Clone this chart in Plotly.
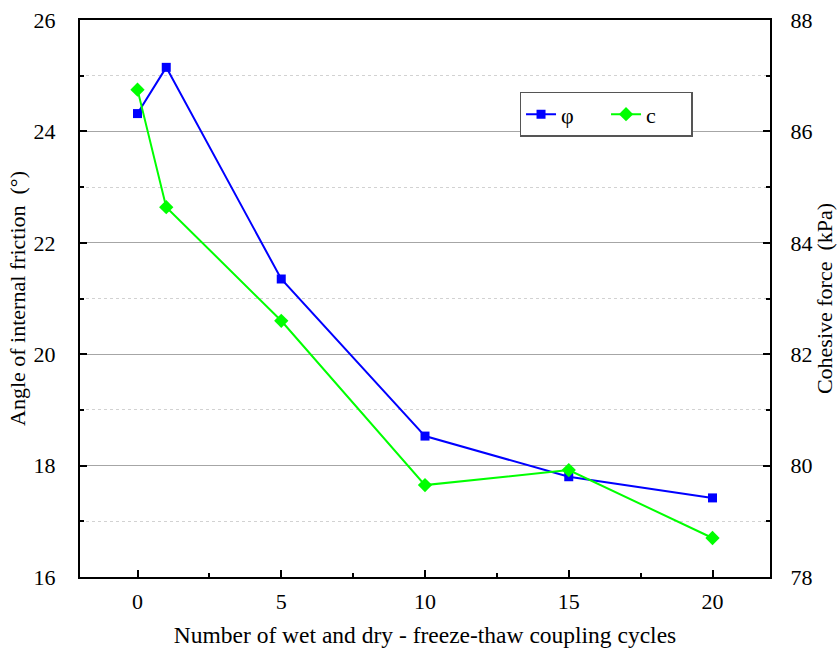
import plotly.graph_objects as go

# Wet-dry / freeze-thaw coupling cycles and the measured shear strength parameters
cycles = [0, 1, 5, 10, 15, 20]
phi_deg = [24.32, 25.15, 21.35, 18.53, 17.80, 17.42]   # angle of internal friction (°)
cohesion_kpa = [86.75, 84.64, 82.60, 79.65, 79.92, 78.70]  # cohesive force (kPa)

FONT = "Times New Roman, Liberation Serif, serif"

fig = go.Figure()
fig.add_trace(go.Scatter(
    x=cycles, y=phi_deg, name="φ", mode="lines+markers",
    line=dict(color="#0000FF", width=2),
    marker=dict(symbol="square", size=9, color="#0000FF"),
))
fig.add_trace(go.Scatter(
    x=cycles, y=cohesion_kpa, name="c", mode="lines+markers", yaxis="y2",
    line=dict(color="#00FF00", width=2),
    marker=dict(symbol="diamond", size=11, color="#00FF00"),
))

axis_common = dict(
    showline=True, linecolor="black", linewidth=2,
    ticks="inside", ticklen=7, tickwidth=2, tickcolor="black",
    tickfont=dict(family=FONT, size=22, color="black"),
    zeroline=False, automargin=False,
)

fig.update_layout(
    width=838, height=648,
    margin=dict(l=80, r=68, t=20, b=71),
    paper_bgcolor="white", plot_bgcolor="white",
    font=dict(family=FONT, size=22, color="black"),
    xaxis=dict(
        **axis_common,
        range=[-2, 22], dtick=5, tick0=0, mirror=True, showgrid=False,
        ticklabelstandoff=4,
        minor=dict(dtick=2.5, ticks="inside", ticklen=4, tickwidth=2, tickcolor="black", showgrid=False),
        title=dict(text="Number of wet and dry - freeze-thaw coupling cycles",
                   font=dict(family=FONT, size=23.5), standoff=14),
    ),
    yaxis=dict(
        **axis_common,
        range=[16, 26], dtick=2, tick0=16, ticklabelstandoff=18,
        showgrid=True, gridcolor="#a6a6a6", gridwidth=1,
        minor=dict(dtick=1, ticks="inside", ticklen=4, tickwidth=2, tickcolor="black",
                   showgrid=True, gridcolor="#d2d2d2", griddash="3px,3px", gridwidth=1),
        title=dict(text="Angle of internal friction  (°)",
                   font=dict(family=FONT, size=22), standoff=2),
    ),
    yaxis2=dict(
        **axis_common,
        overlaying="y", side="right", anchor="x",
        range=[78, 88], dtick=2, tick0=78, showgrid=False, ticklabelstandoff=14,
        minor=dict(dtick=1, ticks="inside", ticklen=4, tickwidth=2, tickcolor="black", showgrid=False),
        title=dict(text="Cohesive force  (kPa)",
                   font=dict(family=FONT, size=22), standoff=2),
    ),
    legend=dict(
        orientation="h", x=0.637, y=0.871, xanchor="left", yanchor="top",
        bgcolor="white", bordercolor="#555555", borderwidth=1.5,
        font=dict(family=FONT, size=22), entrywidth=40, entrywidthmode="pixels",
        tracegroupgap=0,
    ),
    showlegend=True,
)

fig.write_html("out.html")
